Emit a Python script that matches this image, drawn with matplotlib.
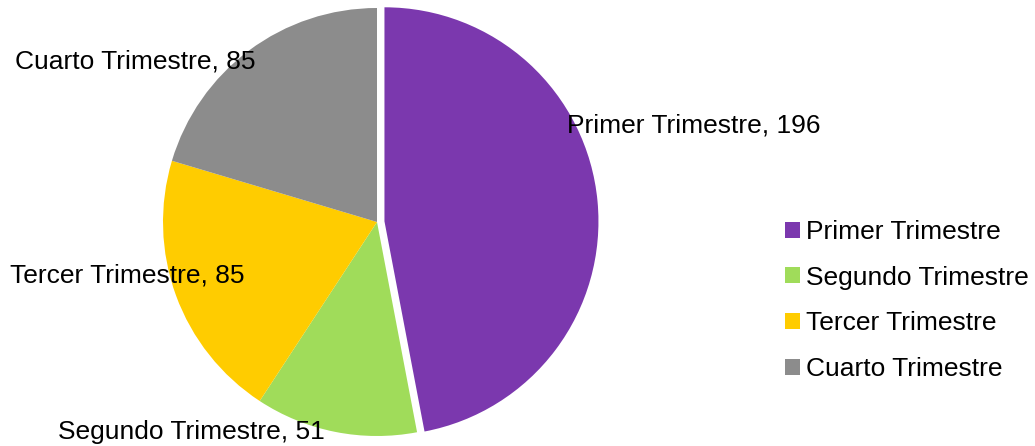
import matplotlib
matplotlib.use("Agg")
import matplotlib.pyplot as plt
from matplotlib.patches import Patch

categories = ["Primer Trimestre", "Segundo Trimestre", "Tercer Trimestre", "Cuarto Trimestre"]
values = [196, 51, 85, 85]
colors = ["#7B38AE", "#A0DC5A", "#FFCC00", "#8C8C8C"]
explode = [0.035, 0, 0, 0]

plt.rcParams['font.family'] = ['Liberation Sans', 'DejaVu Sans']

W, H = 1035, 446
fig = plt.figure(figsize=(W / 100, H / 100), dpi=100)
ax = fig.add_axes([0, 0, 1, 1])

cx, cy, R = 377, 222, 214  # pixel center (from top) and radius
ax.pie(values, colors=colors, startangle=90, counterclock=False, explode=explode,
       radius=1.0, wedgeprops=dict(linewidth=0))
ax.set_aspect('auto')
ax.set_xlim(-cx / R, (W - cx) / R)
ax.set_ylim(-(H - cy) / R, cy / R)
ax.axis('off')

FS = 19
# data labels (pixel positions of text left edge / vertical center)
label_pos = [(567, 126), (58, 432), (10, 275), (15, 62)]
for cat, val, (px, py) in zip(categories, values, label_pos):
    fig.text(px / W, 1 - py / H, f"{cat}, {val}", fontsize=FS, ha='left', va='center', color='black')

handles = [Patch(facecolor=c, edgecolor='none') for c in colors]
leg = fig.legend(handles, categories, loc='upper left', bbox_to_anchor=(785 / W, 1 - 220 / H),
                 frameon=False, fontsize=FS, handlelength=0.55, handleheight=0.55,
                 handletextpad=0.25, labelspacing=0.82, borderpad=0, borderaxespad=0)

fig.savefig("out.png", dpi=100)
